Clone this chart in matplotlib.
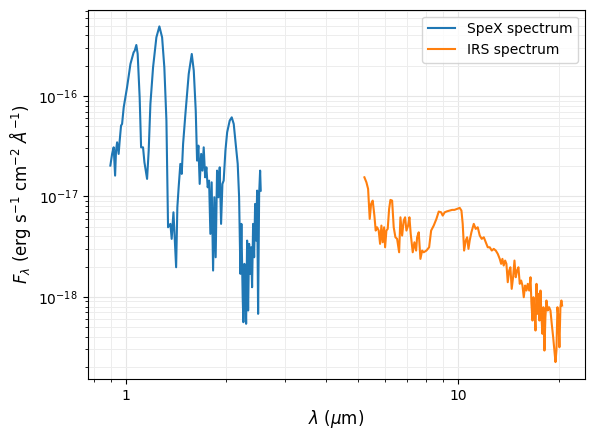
import matplotlib
matplotlib.use("Agg")
import matplotlib.pyplot as plt
from matplotlib.ticker import FuncFormatter, NullFormatter
import numpy as np

# SpeX spectrum: wavelength (micron), flux (1e-17 erg/s/cm2/A)
spex_wave = [0.898, 0.909, 0.919, 0.928, 0.934, 0.941, 0.951, 0.958, 0.967, 0.974,
             0.985, 1.008, 1.020, 1.032, 1.055, 1.063, 1.075, 1.085, 1.100, 1.111, 1.126, 1.137,
             1.158, 1.171, 1.185, 1.207, 1.235, 1.261, 1.285, 1.305, 1.324, 1.339,
             1.361, 1.373, 1.390, 1.416, 1.428, 1.441, 1.458, 1.472, 1.486, 1.510,
             1.545, 1.578, 1.600, 1.622, 1.637, 1.652, 1.667, 1.684, 1.699, 1.714,
             1.731, 1.746, 1.762, 1.779, 1.795, 1.811, 1.829, 1.845, 1.862, 1.880,
             1.897, 1.915, 1.933, 1.951, 1.968, 1.992, 2.016, 2.052, 2.081, 2.110,
             2.139, 2.169, 2.190, 2.210, 2.225, 2.245, 2.256, 2.272, 2.288, 2.299,
             2.315, 2.331, 2.347, 2.363, 2.380, 2.396, 2.413, 2.430, 2.447, 2.464,
             2.481, 2.498, 2.516, 2.533, 2.544]
spex_flux = [2.026, 2.648, 3.08, 1.61, 2.855, 3.454, 2.648, 3.592, 5.064, 5.265,
             7.70, 12.18, 15.92, 20.82, 27.16, 28.23, 32.17, 26.18, 9.68, 3.08, 3.08, 2.184,
             1.494, 2.855, 8.326, 19.26, 38.30, 49.27, 38.30, 19.26, 5.679, 0.4927,
             0.5326, 0.3777, 0.6946, 0.1970, 0.7792, 1.232, 2.106, 1.675, 3.330, 6.622,
             16.55, 26.18, 17.85, 7.141, 2.271, 3.203, 1.331, 2.648, 1.806, 3.08,
             1.549, 1.948, 1.232, 1.436, 0.4234, 1.381, 0.1827, 0.980, 0.2477, 1.806,
             0.980, 1.948, 0.5326, 1.331, 1.436, 2.855, 4.343, 5.679, 6.125, 5.265,
             3.330, 2.106, 0.980, 0.1694, 0.5326, 0.0991, 0.0559, 0.2130, 0.1071, 0.0539,
             0.3633, 0.0731, 0.3368, 0.1694, 0.3115, 0.1246, 0.5326, 0.2477, 0.842, 0.3633,
             1.142, 0.0677, 1.059, 1.806, 1.142]

# IRS spectrum: wavelength (micron), flux (1e-17 erg/s/cm2/A)
irs_wave = [5.215, 5.288, 5.350, 5.410, 5.462, 5.523, 5.588, 5.639, 5.694, 5.757,
            5.813, 5.866, 5.919, 5.977, 6.018, 6.073, 6.128, 6.188, 6.244, 6.318,
            6.388, 6.464, 6.540, 6.632, 6.692, 6.771, 6.846, 6.913, 6.976, 7.058,
            7.122, 7.186, 7.287, 7.373, 7.460, 7.512, 7.596, 7.686, 7.777, 7.863,
            8.012, 8.163, 8.277, 8.427, 8.586, 8.724, 8.870, 8.969, 9.093, 9.246,
            9.414, 9.573, 9.727, 9.910, 10.09, 10.21, 10.30, 10.40, 10.52, 10.62,
            10.72, 10.81, 10.94, 11.12, 11.27, 11.43, 11.59, 11.75, 11.92, 12.08,
            12.25, 12.42, 12.60, 12.77, 12.95, 13.13, 13.31, 13.44, 13.56, 13.68,
            13.82, 13.94, 14.07, 14.21, 14.33, 14.46, 14.60, 14.74, 14.87, 15.01,
            15.15, 15.29, 15.44, 15.58, 15.72, 15.87, 16.02, 16.16, 16.32, 16.47,
            16.58, 16.70, 16.81, 16.93, 17.05, 17.17, 17.28, 17.40, 17.52, 17.65,
            17.77, 17.89, 18.01, 18.14, 18.26, 18.39, 18.56, 18.74, 18.91, 19.08,
            19.27, 19.44, 19.58, 19.71, 19.85, 19.98, 20.12, 20.26, 20.40, 20.50]
irs_flux = [1.549, 1.381, 1.188, 0.597, 0.842, 0.908, 0.644, 0.4567, 0.4927, 0.4567,
            0.3368, 0.5122, 0.3494, 0.4927, 0.3115, 0.4567, 0.4749, 0.751, 0.923, 0.908,
            0.4927, 0.3918, 0.3777, 0.2778, 0.6194, 0.4073, 0.5742, 0.6194, 0.4567, 0.5122,
            0.6194, 0.4234, 0.2778, 0.3494, 0.2889, 0.3918, 0.4393, 0.2388, 0.2889, 0.2778,
            0.2889, 0.3115, 0.4567, 0.5122, 0.597, 0.706, 0.6946, 0.644, 0.6946, 0.7108,
            0.7224, 0.7341, 0.7341, 0.751, 0.7684, 0.7224, 0.5326, 0.2889, 0.3633, 0.3918,
            0.3003, 0.3633, 0.4393, 0.5326, 0.4749, 0.4927, 0.4073, 0.3777, 0.3918, 0.3494,
            0.3115, 0.3115, 0.2889, 0.3003, 0.2889, 0.2679, 0.2388, 0.2130, 0.2388, 0.2049,
            0.2297, 0.2130, 0.1398, 0.1827, 0.1970, 0.1201, 0.1567, 0.2297, 0.1567, 0.1827,
            0.1970, 0.1347, 0.1453, 0.1296, 0.0991, 0.1296, 0.1155, 0.1347, 0.1155, 0.1567,
            0.0852, 0.0581, 0.0991, 0.0731, 0.0462, 0.1347, 0.0677, 0.1071, 0.0581, 0.1155,
            0.0627, 0.0428, 0.0788, 0.0292, 0.0627, 0.0919, 0.0731, 0.0788, 0.0731, 0.0539,
            0.0396, 0.0292, 0.0224, 0.0292, 0.0788, 0.0627, 0.0315, 0.0788, 0.0919, 0.0819]

scale = 1e-17

fig = plt.figure(figsize=(5.93, 4.37), dpi=100)
ax = fig.add_axes([0.148, 0.133, 0.838, 0.845])
ax.plot(spex_wave, np.array(spex_flux) * scale, color='tab:blue', lw=1.5, label='SpeX spectrum')
ax.plot(irs_wave, np.array(irs_flux) * scale, color='tab:orange', lw=1.5, label='IRS spectrum')
ax.set_xscale('log')
ax.set_yscale('log')
ax.xaxis.set_major_formatter(FuncFormatter(lambda v, p: f'{v:g}'))
ax.xaxis.set_minor_formatter(NullFormatter())
ax.grid(True, which='major', color='0.9', linewidth=0.8)
ax.grid(True, which='minor', color='0.93', linewidth=0.7)
ax.set_axisbelow(True)
ax.set_xlabel(r'$\lambda$ ($\mu$m)', fontsize=12)
ax.set_ylabel(r'$F_\lambda$ (erg s$^{-1}$ cm$^{-2}$ $\AA^{-1}$)', fontsize=12)
ax.legend(loc='upper right')
fig.savefig('out.png', dpi=100)
